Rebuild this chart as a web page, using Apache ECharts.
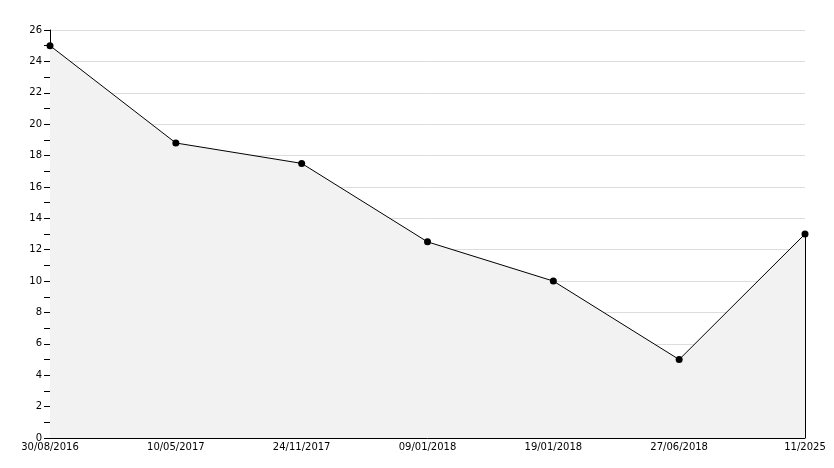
<!DOCTYPE html>
<html>
<head>
<meta charset="utf-8">
<script src="https://cdn.jsdelivr.net/npm/echarts@6/dist/echarts.min.js"></script>
<style>
  html, body { margin: 0; padding: 0; background: #fff; }
  #chart { width: 834px; height: 468px; }
</style>
</head>
<body>
<div id="chart"></div>
<script>
// data
var categories = ["30/08/2016", "10/05/2017", "24/11/2017", "09/01/2018", "19/01/2018", "27/06/2018", "11/2025"];
var values = [25, 18.8, 17.5, 12.5, 10, 5, 13];
var yMin = 0, yMax = 26, yStep = 2;

var lastCat = categories[categories.length - 1];
var lastVal = values[values.length - 1];

var myChart = echarts.init(document.getElementById("chart"), null, { renderer: "canvas" });
myChart.setOption({
  animation: false,
  backgroundColor: "#fff",
  textStyle: { fontFamily: "DejaVu Sans", fontSize: 10, color: "#000" },
  grid: { left: 50, right: 29, top: 30, bottom: 30 },
  xAxis: {
    type: "category",
    data: categories,
    boundaryGap: false,
    axisLine: { lineStyle: { color: "#000", width: 1 } },
    axisTick: { inside: true, length: 4, lineStyle: { color: "#000" } },
    axisLabel: { color: "#000", fontSize: 10, margin: 4, fontFamily: "DejaVu Sans" },
    splitLine: { show: false }
  },
  yAxis: {
    type: "value",
    min: yMin,
    max: yMax,
    interval: yStep,
    axisLine: { show: true, lineStyle: { color: "#000", width: 1 } },
    axisTick: { show: true, length: 6, lineStyle: { color: "#000" } },
    minorTick: { show: true, splitNumber: 2, length: 6, lineStyle: { color: "#000" } },
    axisLabel: { color: "#000", fontSize: 10, margin: 8, fontFamily: "DejaVu Sans" },
    splitLine: { show: true, lineStyle: { color: "#dddddd", width: 1 } }
  },
  series: [
    {
      type: "line",
      data: values,
      symbol: "circle",
      symbolSize: 7,
      showAllSymbol: true,
      itemStyle: { color: "#000" },
      lineStyle: { color: "#000", width: 1 },
      areaStyle: { color: "#f2f2f2", opacity: 1 },
      markLine: {
        silent: true,
        symbol: "none",
        label: { show: false },
        lineStyle: { color: "#000", width: 1, type: "solid" },
        data: [[{ coord: [lastCat, 0] }, { coord: [lastCat, lastVal] }]]
      }
    }
  ]
});
</script>
</body>
</html>
